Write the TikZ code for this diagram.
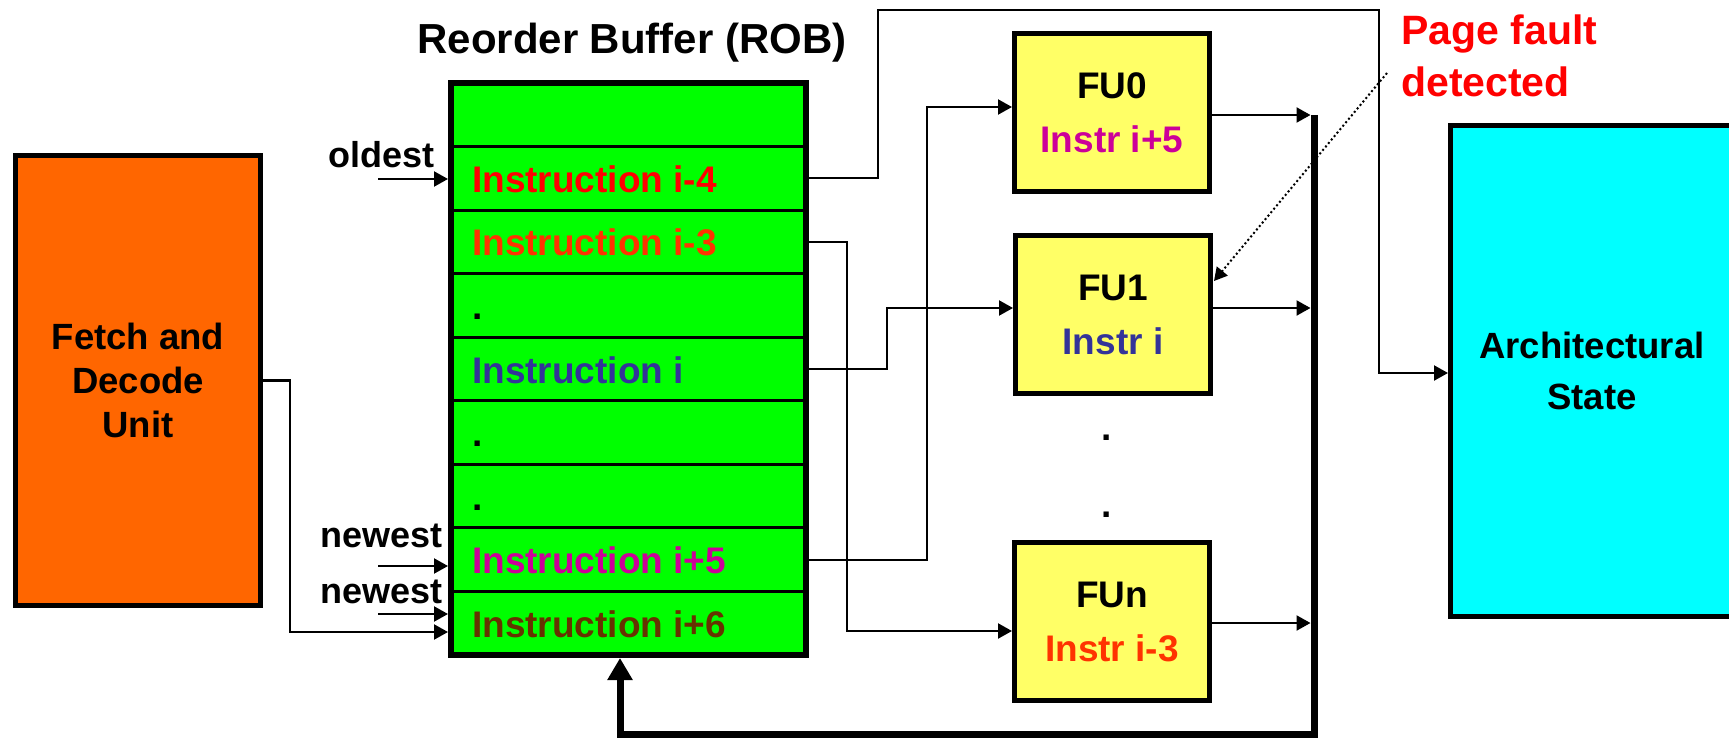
\documentclass[tikz,border=0pt]{standalone}
\usepackage{fontspec}
\setmainfont{Liberation Sans}
\usetikzlibrary{arrows.meta}
\definecolor{robgreen}{HTML}{00FF00}
\definecolor{fetchorange}{HTML}{FF6600}
\definecolor{fuyellow}{HTML}{FFFF66}
\definecolor{archcyan}{HTML}{00FFFF}
\definecolor{cred}{HTML}{FF0000}
\definecolor{corange}{HTML}{FF3300}
\definecolor{cblue}{HTML}{333399}
\definecolor{cmag}{HTML}{CC0099}
\definecolor{cbrown}{HTML}{663300}
\begin{document}
\begin{tikzpicture}[x=1pt,y=-1pt,
  box/.style={draw, line width=5pt, inner sep=0pt, align=center},
  rowbox/.style={draw, line width=3pt, fill=robgreen, minimum width=355pt, minimum height=63.556pt, inner sep=0pt, outer sep=0pt},
  fubox/.style={box, fill=fuyellow, minimum width=195pt, minimum height=158pt, font=\fontsize{37}{54}\selectfont\bfseries},
  conn/.style={line width=2.2pt, -{Triangle[length=14pt,width=15pt]}},
  bus/.style={line width=7pt, -{Triangle[length=22pt,width=24pt]}},
  instr/.style={anchor=base west, inner sep=0pt, font=\fontsize{37}{44}\selectfont\bfseries},
  lbl/.style={anchor=base east, inner sep=0pt, font=\fontsize{36}{44}\selectfont\bfseries},
  dotlbl/.style={anchor=base, inner sep=0pt, font=\fontsize{37}{44}\selectfont\bfseries},
  pftext/.style={anchor=base west, inner sep=0pt, text=cred, font=\fontsize{41}{52}\selectfont\bfseries}]
\useasboundingbox (0,0) rectangle (1729,738);
\clip (0,0) rectangle (1729,738);
\fill[white] (0,0) rectangle (1729,738);

% title
\node[anchor=base, inner sep=0pt, font=\fontsize{42}{50}\selectfont\bfseries] (title) at (632,54) {Reorder Buffer (ROB)};

% ROB rows
\foreach \k in {0,...,8}{
  \node[rowbox] (r\k) at (628.5, {83+63.556*(\k+0.5)}) {};
}
\node[draw, line width=6pt, minimum width=355pt, minimum height=572pt, inner sep=0pt] (rob) at (628.5,369) {};

% row texts
\node[instr, text=cred]   (t1) at (472,192.3) {Instruction i-4};
\node[instr, text=corange](t2) at (472,255.9) {Instruction i-3};
\node[instr]              (t3) at (472,319.4) {.};
\node[instr, text=cblue]  (t4) at (472,383.0) {Instruction i};
\node[instr]              (t5) at (472,446.6) {.};
\node[instr]              (t6) at (472,510.1) {.};
\node[instr, text=cmag]   (t7) at (472,573.7) {Instruction i+5};
\node[instr, text=cbrown] (t8) at (472,637.2) {Instruction i+6};

% pointer labels
\node[lbl] (oldest) at (435,168) {oldest};
\node[lbl] (newest1) at (443,547) {newest};
\node[lbl] (newest2) at (443,603) {newest};

% Fetch and Decode
\node[box, fill=fetchorange, minimum width=245pt, minimum height=450pt, font=\fontsize{36.5}{44}\selectfont\bfseries] (fetch) at (138,380.5) {Fetch and\\Decode\\Unit};

% Architectural state
\node[box, fill=archcyan, minimum width=283pt, minimum height=491pt, font=\fontsize{36.5}{51}\selectfont\bfseries] (arch) at (1592,371) {Architectural\\State};

% functional units
\node[fubox] (fu0) at (1112,113) {FU0\\\textcolor{cmag}{Instr i+5}};
\node[fubox] (fu1) at (1113,314.5) {FU1\\\textcolor{cblue}{Instr i}};
\node[fubox] (fun) at (1112,621.5) {FUn\\\textcolor{corange}{Instr i-3}};
\node[dotlbl] (d1) at (1107,440.5) {.};
\node[dotlbl] (d2) at (1107,517.5) {.};

% page fault
\node[pftext] (pf1) at (1401,45) {Page fault};
\node[pftext] (pf2) at (1401,97) {detected};

% coordinates
\coordinate (a0) at (378,179);
\coordinate (a1) at (378,566);
\coordinate (a2) at (378,614);
\coordinate (j0) at (290,632);
\coordinate (t1a) at (878,10);
\coordinate (t1b) at (1379,10);
\coordinate (ain) at (1379,373);
\coordinate (j2) at (847,631);
\coordinate (j4) at (887,308);
\coordinate (j7) at (927,107);
\coordinate (o0s) at (1210,115);
\coordinate (o0) at (1310.5,115);
\coordinate (o1s) at (1210,308);
\coordinate (o1) at (1310.5,308);
\coordinate (ons) at (1210,623);
\coordinate (on) at (1310.5,623);
\coordinate (b0) at (1314,115);
\coordinate (b1) at (1314,734);
\coordinate (b2) at (620,734);
\coordinate (pfs) at (1387,73);
\coordinate (pfe) at (1214,281);

% pointer arrows
\draw[conn] (a0) -- (rob.west |- a0);
\draw[conn] (a1) -- (rob.west |- a1);
\draw[conn] (a2) -- (rob.west |- a2);
\draw[conn] (fetch.east) -| (j0) -- (rob.west |- j0);

% ROB to units
\draw[conn] (rob.east |- r1) -| (t1a) -- (t1b) -- (ain) -- (arch.west |- ain);
\draw[conn] (rob.east |- r2) -| (j2) -- (fun.west |- j2);
\draw[conn] (rob.east |- r4) -| (j4) -- (fu1.west |- j4);
\draw[conn] (rob.east |- r7) -| (j7) -- (fu0.west |- j7);

% unit outputs
\draw[conn] (fu0.east |- o0s) -- (o0);
\draw[conn] (fu1.east |- o1s) -- (o1);
\draw[conn] (fun.east |- ons) -- (on);

% result bus back to ROB
\draw[bus] (b0) -- (b1) -- (b2) -- (rob.south -| b2);

% page fault pointer
\draw[line width=2pt, dash pattern=on 2pt off 2.5pt, -{Triangle[length=13pt,width=14pt]}] (pfs) -- (pfe);
\end{tikzpicture}
\end{document}
